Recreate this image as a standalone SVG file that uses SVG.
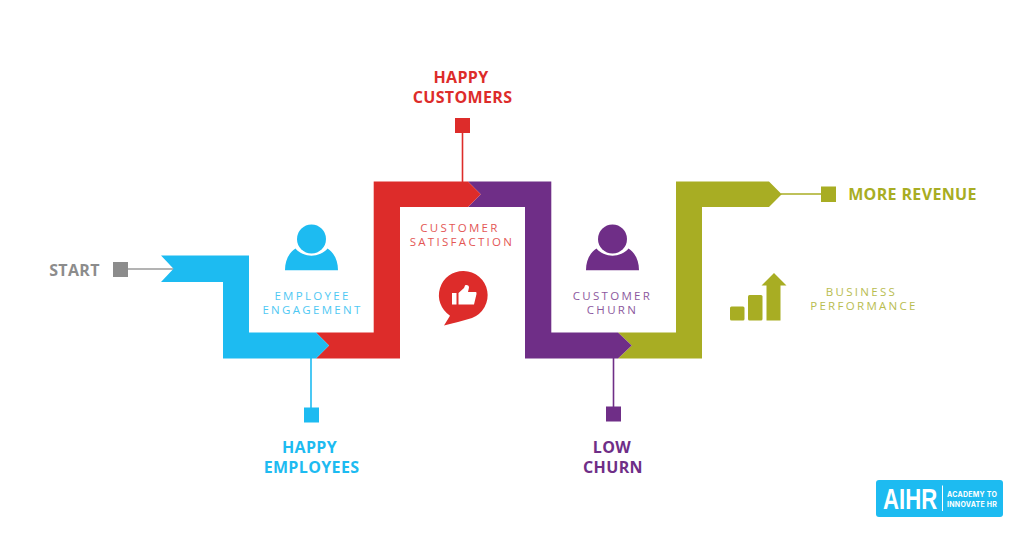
<svg xmlns="http://www.w3.org/2000/svg" width="1024" height="535" viewBox="0 0 1024 535">
<style>
text{font-family:"Open Sans","Noto Sans","Liberation Sans",sans-serif;text-anchor:middle}
.h{font-weight:700;font-size:16px;letter-spacing:.35px}
.s{font-size:11.5px;letter-spacing:2.3px;opacity:.8}
.blue{fill:#1dbbf1}.red{fill:#dd2c2a}.pur{fill:#6f2e87}.oli{fill:#a8ad23}.gry{fill:#8c8c8c}
line{stroke-width:1.6}
</style>
<rect width="1024" height="535" fill="#fff"/>
<g id="connectors">
<line x1="128" y1="269" x2="174" y2="269" stroke="#9a9a9a"/>
<line x1="311" y1="358" x2="311" y2="408" stroke="#1dbbf1"/>
<line x1="462.500" y1="132" x2="462.500" y2="182" stroke="#dd2c2a"/>
<line x1="613.500" y1="358" x2="613.500" y2="408" stroke="#6f2e87"/>
<line x1="781" y1="194" x2="822" y2="194" stroke="#a8ad23"/>
</g>
<g id="band-olive"><path class="oli" d="M618 332.500H676V181.500H769L781.700 194.300L769 207H702V358.500H618L631.700 345.500Z"/></g>
<g id="band-purple"><path class="pur" d="M468 181.500H551.300V332.500H618L631.700 345.500L618 358.500H525V207H468L480.700 194.300Z"/></g>
<g id="band-red"><path class="red" d="M316 332.500H373.700V181.500H468L480.700 194.300L468 207H400V358.500H316L329 345.500Z"/></g>
<g id="band-blue"><path class="blue" d="M161 255.500H249V332.500H316L329 345.500L316 358.500H223V282H161L173.500 268.700Z"/></g>
<g id="start"><rect class="gry" x="113" y="262" width="15" height="15"/><text class="h gry" x="74.500" y="275.500">START</text></g>
<g id="happy-employees"><rect class="blue" x="304" y="407.500" width="15" height="15"/><text class="h blue"><tspan x="309.500" y="453.300">HAPPY</tspan><tspan x="311.500" y="473.300">EMPLOYEES</tspan></text></g>
<g id="happy-customers"><rect class="red" x="455" y="118" width="15" height="15"/><text class="h red"><tspan x="461" y="82.500">HAPPY</tspan><tspan x="462.500" y="102.500">CUSTOMERS</tspan></text></g>
<g id="low-churn"><rect class="pur" x="606" y="406.500" width="15" height="15"/><text class="h pur"><tspan x="612" y="452.700">LOW</tspan><tspan x="613" y="472.700">CHURN</tspan></text></g>
<g id="more-revenue"><rect class="oli" x="821" y="186.500" width="15" height="15.500"/><text class="h oli" x="912.500" y="199.800">MORE REVENUE</text></g>
<g id="employee-engagement">
<circle class="blue" cx="311.500" cy="239" r="14.500"/>
<path class="blue" d="M285 270.300C285 260 289 253 295.500 248.500C303 258 320 258 327.500 248.500C334 253 338 260 338 270.300Z"/>
<text class="s blue"><tspan x="312.500" y="299.500">EMPLOYEE</tspan><tspan x="312.500" y="314">ENGAGEMENT</tspan></text>
</g>
<g id="customer-satisfaction">
<text class="s red"><tspan x="460" y="231.500">CUSTOMER</tspan><tspan x="462" y="246">SATISFACTION</tspan></text>
<path class="red" d="M463.700 271A24.300 24.300 0 0 1 472 318C463 321 453 323 444 325.500L450 315.700A24.300 24.300 0 0 1 463.700 271Z"/>
<g fill="#fff"><rect x="452" y="293" width="4.500" height="11.500"/><path d="M458.500 293L464 288L465 285.500C466 284.500 469 285 469 287.500L468 292H476C476.500 292 476.500 293 476.500 294L474 304.500H458.500Z"/></g>
</g>
<g id="customer-churn">
<circle class="pur" cx="612.500" cy="239" r="14.500"/>
<path class="pur" d="M586 270.300C586 260 590 253 596.500 248.500C604 258 621 258 628.500 248.500C635 253 639 260 639 270.300Z"/>
<text class="s pur"><tspan x="612.500" y="299.500">CUSTOMER</tspan><tspan x="612.500" y="314">CHURN</tspan></text>
</g>
<g id="business-performance">
<rect class="oli" x="730" y="306.500" width="14.500" height="14" rx="1.500"/>
<rect class="oli" x="748" y="295" width="14.500" height="25.500" rx="1.500"/>
<path class="oli" d="M766.500 320.500V285.500H761.500L774 273L786.500 285.500H780.500V320.500Z"/>
<text class="s oli"><tspan x="861.500" y="295.500">BUSINESS</tspan><tspan x="864" y="310">PERFORMANCE</tspan></text>
</g>
<g id="aihr-logo">
<rect class="blue" x="876" y="480" width="127" height="37" rx="3"/>
<text transform="translate(883 509) scale(.74 1)" fill="#fff" style="font-family:'Liberation Sans',sans-serif;font-weight:700;font-size:30px;text-anchor:start">AIHR</text>
<rect x="942" y="485.500" width="1" height="25.500" fill="#fff"/>
<text fill="#fff" x="947" y="497.300" style="font-family:'Inter','Liberation Sans',sans-serif;font-weight:700;font-size:7px;letter-spacing:.25px;text-anchor:start">ACADEMY TO</text>
<text fill="#fff" x="947" y="506.700" style="font-family:'Inter','Liberation Sans',sans-serif;font-weight:700;font-size:7px;letter-spacing:.25px;text-anchor:start">INNOVATE HR</text>
</g>
</svg>
